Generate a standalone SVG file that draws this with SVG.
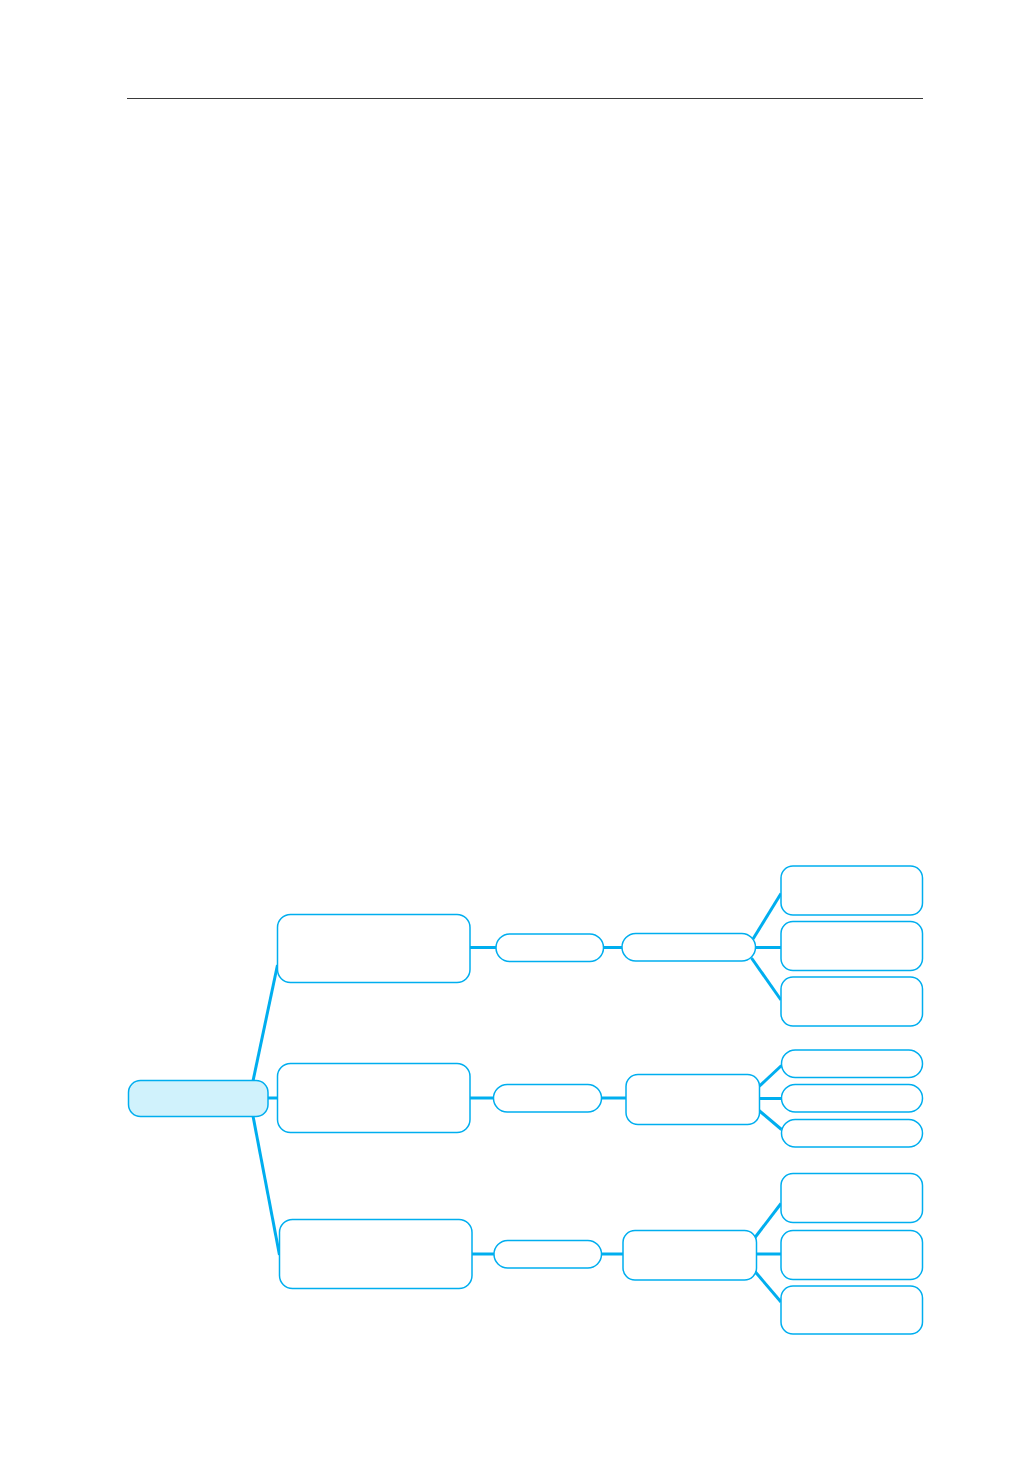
<svg xmlns="http://www.w3.org/2000/svg" width="1032" height="1481" viewBox="0 0 1032 1481">
<style>
.n{fill:#ffffff;stroke:#00aeef;stroke-width:1.5}
.r{fill:#d0f2fc;stroke:#00aeef;stroke-width:1.5}
.c{stroke:#00aeef;stroke-width:3;fill:none;stroke-linecap:butt}
</style>
<rect width="1032" height="1481" fill="#ffffff"/>
<line x1="127" y1="98.5" x2="923" y2="98.5" stroke="#3a3a3a" stroke-width="1.2"/>
<g id="connectors">
<line class="c" x1="253" y1="1081" x2="277.5" y2="965"/>
<line class="c" x1="268" y1="1098" x2="277.5" y2="1098"/>
<line class="c" x1="253" y1="1116" x2="279.5" y2="1255"/>
<line class="c" x1="470" y1="947.5" x2="496" y2="947.5"/>
<line class="c" x1="470" y1="1098" x2="493.5" y2="1098"/>
<line class="c" x1="472" y1="1254" x2="494" y2="1254"/>
<line class="c" x1="603" y1="947.5" x2="622" y2="947.5"/>
<line class="c" x1="601.5" y1="1098" x2="626" y2="1098"/>
<line class="c" x1="601.5" y1="1254" x2="623" y2="1254"/>
<line class="c" x1="753" y1="939" x2="781" y2="893.5"/>
<line class="c" x1="755" y1="947.5" x2="781" y2="947.5"/>
<line class="c" x1="751.5" y1="958" x2="781" y2="1000"/>
<line class="c" x1="759" y1="1086.5" x2="781.5" y2="1065.5"/>
<line class="c" x1="759" y1="1098.5" x2="781.5" y2="1098.5"/>
<line class="c" x1="759" y1="1110.5" x2="781.5" y2="1129.5"/>
<line class="c" x1="755" y1="1237.5" x2="781" y2="1203.5"/>
<line class="c" x1="756.5" y1="1254" x2="781" y2="1254"/>
<line class="c" x1="755" y1="1271.5" x2="781" y2="1302"/>
</g>
<g id="root"><rect class="r" x="128.5" y="1080.5" width="139.5" height="36" rx="12"/></g>
<g id="l1a"><rect class="n" x="277.5" y="914.5" width="192.5" height="68" rx="13"/></g>
<g id="l1b"><rect class="n" x="277.5" y="1063.5" width="192.5" height="69" rx="13"/></g>
<g id="l1c"><rect class="n" x="279.5" y="1219.5" width="192.5" height="69" rx="13"/></g>
<g id="l2a"><rect class="n" x="496" y="934" width="107.5" height="27.5" rx="13.7"/></g>
<g id="l2b"><rect class="n" x="493.5" y="1084.5" width="108" height="27.5" rx="13.7"/></g>
<g id="l2c"><rect class="n" x="494" y="1240.5" width="107.5" height="27.5" rx="13.7"/></g>
<g id="l3a"><rect class="n" x="622" y="933.5" width="133.5" height="27.5" rx="13.7"/></g>
<g id="l3b"><rect class="n" x="626" y="1074.5" width="133.5" height="50" rx="12"/></g>
<g id="l3c"><rect class="n" x="623" y="1230.5" width="133.5" height="49.5" rx="12"/></g>
<g id="l4a1"><rect class="n" x="781" y="866" width="141.5" height="49" rx="12"/></g>
<g id="l4a2"><rect class="n" x="781" y="921.5" width="141.5" height="49" rx="12"/></g>
<g id="l4a3"><rect class="n" x="781" y="977" width="141.5" height="49" rx="12"/></g>
<g id="l4b1"><rect class="n" x="781.5" y="1050" width="141" height="27.5" rx="13.7"/></g>
<g id="l4b2"><rect class="n" x="781.5" y="1084.5" width="141" height="27.5" rx="13.7"/></g>
<g id="l4b3"><rect class="n" x="781.5" y="1119.5" width="141" height="27.5" rx="13.7"/></g>
<g id="l4c1"><rect class="n" x="781" y="1173.5" width="141.5" height="49" rx="12"/></g>
<g id="l4c2"><rect class="n" x="781" y="1230.5" width="141.5" height="49" rx="12"/></g>
<g id="l4c3"><rect class="n" x="781" y="1286" width="141.5" height="48" rx="12"/></g>
</svg>
